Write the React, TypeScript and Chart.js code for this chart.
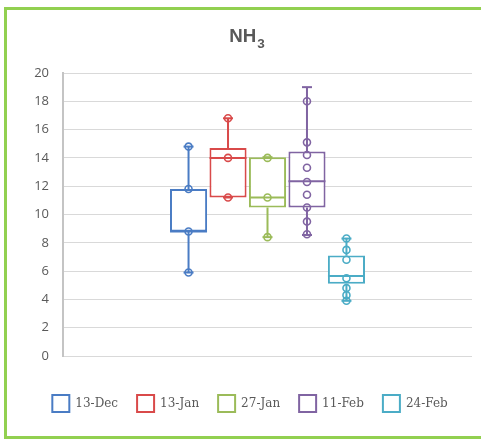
import { useEffect, useRef } from "react";
import { Chart, registerables } from "chart.js";

Chart.register(...registerables);

// ---- data ----
const titleMain = "NH";
const titleSub = "3";
const seriesNames = ["13-Dec", "13-Jan", "27-Jan", "11-Feb", "24-Feb"];
const seriesColors = ["#4a7cc4", "#d94a4a", "#9bbb59", "#8064a2", "#4bacc6"];
const whiskerLow = [5.9, 11.2, 8.4, 8.55, 3.9];
const quartile1 = [8.8, 11.2, 10.5, 10.5, 5.1];
const medians = [8.8, 14.0, 11.2, 12.35, 5.65];
const quartile3 = [11.8, 14.7, 14.05, 14.45, 7.1];
const whiskerHigh = [14.8, 16.8, 14.05, 19.0, 8.3];
const pointsDec13 = [14.8, 11.8, 8.8, 5.9];
const pointsJan13 = [16.8, 14.0, 11.2];
const pointsJan27 = [14.0, 11.2, 8.4];
const pointsFeb11 = [18.0, 15.1, 14.2, 13.3, 12.3, 11.4, 10.5, 9.5, 8.6];
const pointsFeb24 = [8.3, 7.5, 6.8, 5.5, 4.8, 4.3, 3.9];
const samplePoints = [pointsDec13, pointsJan13, pointsJan27, pointsFeb11, pointsFeb24];
const yMin = 0;
const yMax = 20;
const yStep = 2;

const TEXT = "#595959";
const TITLE_CENTER_X = 240;

const titlePlugin = {
  id: "nh3Title",
  afterDraw(chart: any) {
    const ctx = chart.ctx;
    ctx.save();
    ctx.fillStyle = TEXT;
    ctx.textAlign = "left";
    ctx.textBaseline = "alphabetic";
    const mainFont = 'bold 18.7px "Liberation Sans", Arial, sans-serif';
    const subFont = 'bold 13.5px "Liberation Sans", Arial, sans-serif';
    ctx.font = mainFont;
    const wMain = ctx.measureText(titleMain).width;
    ctx.font = subFont;
    const wSub = ctx.measureText(titleSub).width;
    const x0 = TITLE_CENTER_X - (wMain + wSub + 1) / 2;
    ctx.font = mainFont;
    ctx.fillText(titleMain, x0, 32);
    ctx.font = subFont;
    ctx.fillText(titleSub, x0 + wMain + 1, 38);
    ctx.restore();
  },
};

export default function App() {
  const canvasRef = useRef<HTMLCanvasElement | null>(null);

  useEffect(() => {
    const canvas = canvasRef.current;
    if (!canvas) return;

    const boxSets = seriesNames.map((name, i) => ({
      type: "bar" as const,
      label: name,
      data: [{ x: i + 1, y: [quartile1[i], quartile3[i]] }],
      backgroundColor: "#ffffff",
      borderColor: seriesColors[i],
      borderWidth: 2,
      borderSkipped: false,
      grouped: false,
      barPercentage: 0.94,
      categoryPercentage: 1,
      order: 3,
    }));

    const whiskerSets = seriesNames.map((name, i) => ({
      type: "line" as const,
      label: name + " whisker",
      data: [
        { x: i + 1, y: whiskerHigh[i] },
        { x: i + 1, y: quartile3[i] },
        { x: i + 1, y: null },
        { x: i + 1, y: quartile1[i] },
        { x: i + 1, y: whiskerLow[i] },
      ],
      borderColor: seriesColors[i],
      borderWidth: 2,
      spanGaps: false,
      pointStyle: "line",
      pointRadius: [5, 0, 0, 0, 5],
      pointBorderColor: seriesColors[i],
      pointBorderWidth: 2,
      order: 2,
    }));

    const medianSets = seriesNames.map((name, i) => ({
      type: "scatter" as const,
      label: name + " median",
      data: [{ x: i + 1, y: medians[i] }],
      showLine: false,
      pointStyle: "line",
      pointRadius: 18.5,
      pointBorderColor: seriesColors[i],
      pointBorderWidth: 2,
      order: 2,
    }));

    const pointSets = seriesNames.map((name, i) => ({
      type: "scatter" as const,
      label: name + " points",
      data: samplePoints[i].map((v) => ({ x: i + 1, y: v })),
      showLine: false,
      pointStyle: "circle",
      pointRadius: 3.5,
      pointBorderWidth: 1.6,
      pointBackgroundColor: "rgba(0,0,0,0)",
      pointBorderColor: seriesColors[i],
      order: 1,
    }));

    const chart = new Chart(canvas, {
      type: "bar",
      data: { datasets: [...boxSets, ...whiskerSets, ...medianSets, ...pointSets] as any },
      plugins: [titlePlugin],
      options: {
        responsive: false,
        animation: false,
        devicePixelRatio: 1,
        layout: {
          autoPadding: false,
          padding: { left: 21, right: 9, top: 63, bottom: 15 },
        },
        plugins: {
          tooltip: { enabled: false },
          title: { display: false },
          legend: {
            display: true,
            position: "bottom",
            labels: {
              boxWidth: 17,
              boxHeight: 17,
              padding: 19,
              color: TEXT,
              font: { family: '"DejaVu Serif", serif', size: 12 },
              filter: (item: any, data: any) =>
                data.datasets[item.datasetIndex].type === "bar",
            },
          },
        },
        scales: {
          x: {
            type: "linear",
            bounds: "data",
            min: -2.18,
            max: 8.18,
            afterBuildTicks: (s: any) => {
              s.ticks = [];
            },
            ticks: { display: false },
            grid: { display: false },
            border: { display: false },
            afterFit: (s: any) => {
              s.height = 20;
            },
          },
          y: {
            type: "linear",
            min: yMin,
            max: yMax,
            ticks: {
              stepSize: yStep,
              color: TEXT,
              padding: 14,
              font: { family: '"Open Sans", sans-serif', size: 13 },
            },
            grid: { color: "#d9d9d9", lineWidth: 1, drawTicks: false },
            border: { display: true, color: "#c4c4c4", width: 2 },
            afterFit: (s: any) => {
              s.width = 35;
            },
          },
        },
      } as any,
    });

    return () => chart.destroy();
  }, []);

  return (
    <div
      style={{
        position: "fixed",
        left: 0,
        top: 0,
        width: 481,
        height: 440,
        overflow: "hidden",
        background: "#ffffff",
      }}
    >
      <div
        style={{
          position: "absolute",
          left: 4,
          top: 7,
          width: 477,
          height: 432,
          borderTop: "3px solid #92d050",
          borderLeft: "3px solid #92d050",
          borderBottom: "3px solid #92d050",
          boxSizing: "border-box",
        }}
      />
      <canvas
        ref={canvasRef}
        width={474}
        height={427}
        style={{ position: "absolute", left: 7, top: 10, width: 474, height: 427 }}
      />
    </div>
  );
}
